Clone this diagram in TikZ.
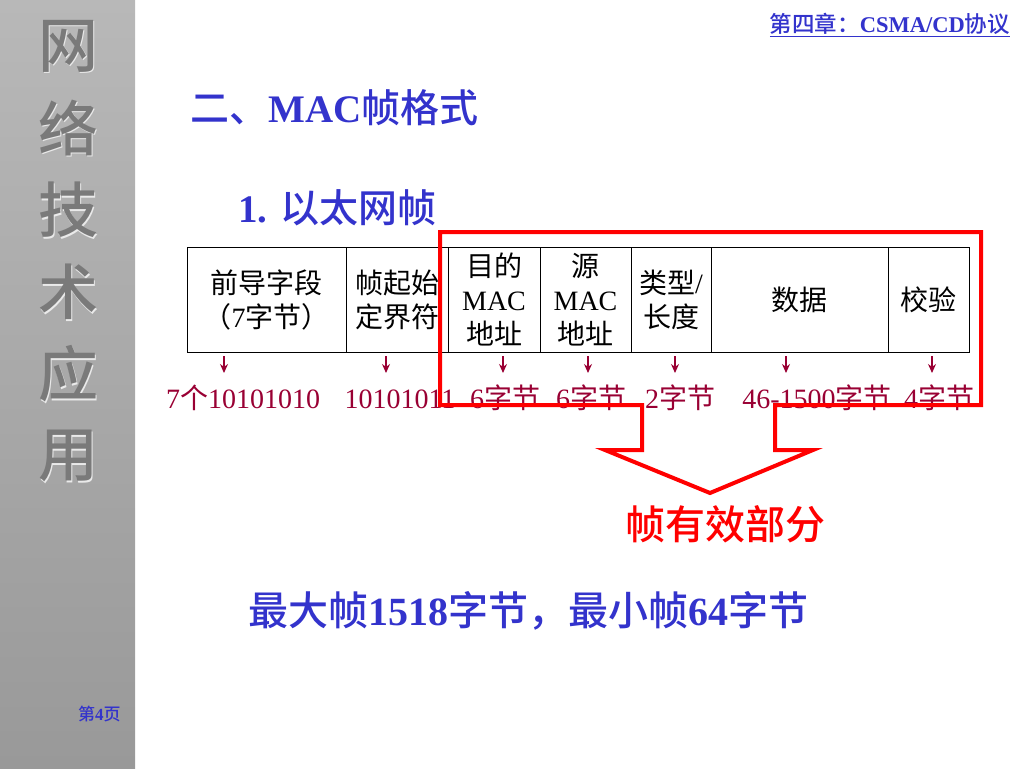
\documentclass[tikz,border=0pt]{standalone}
\usepackage{fontspec}
\setmainfont{Liberation Serif}
\newfontfamily\cjk{Noto Sans CJK SC}[BoldFont={Noto Sans CJK SC Medium}]
\newcommand{\zh}[1]{{\cjk #1}}
\usetikzlibrary{arrows.meta,positioning}

\definecolor{titleblue}{RGB}{51,51,204}
\definecolor{labelred}{RGB}{153,0,51}
\definecolor{sidetop}{RGB}{184,184,184}
\definecolor{sidebot}{RGB}{153,153,153}
\definecolor{sidetext}{RGB}{122,122,122}

\begin{document}
\begin{tikzpicture}
  [
   x=1pt,y=-1pt,
   node distance=0pt,
   cell/.style={draw,line width=0.9pt,inner sep=0pt,outer sep=0pt,minimum height=105pt,align=center,
                font=\fontsize{28}{34}\selectfont},
   lbl/.style={anchor=base,inner sep=0pt,text=labelred,font=\fontsize{28}{34}\selectfont},
   tip/.style={-{Stealth[length=9pt,width=8pt]},line width=1.2pt,draw=labelred},
   head/.style={anchor=base west,inner sep=0pt,text=titleblue,font=\fontsize{39}{44}\selectfont\bfseries},
   sidechar/.style={inner sep=0pt,font=\fontsize{60}{60}\selectfont\cjk\bfseries}
  ]
   \useasboundingbox (0,0) rectangle (1024,768);
   % side bar
   \shade[top color=sidetop,bottom color=sidebot] (0,0) rectangle (135,768);
   \foreach \c [count=\i] in {网,络,技,术,应,用} {
     \node[sidechar,text=white!70!sidetop] at (69.5,47.5+82*\i-82) {\c};
     \node[sidechar,text=sidetext] (s\i) at (68,46+82*\i-82) {\c};
   }
   \node[anchor=base west,inner sep=0pt,text=titleblue,font=\fontsize{17}{20}\selectfont\bfseries]
     (page) at (78,720) {\zh{第}4\zh{页}};

   % headings
   \node[anchor=base east,inner sep=0pt,text=titleblue,font=\fontsize{22.5}{26}\selectfont\bfseries]
     (chap) at (1010,33) {\underline{\zh{第四章：}CSMA/CD\zh{协议}}};
   \node[head] (title) at (190,122) {\zh{二、}MAC\zh{帧格式}};
   \node[head] (sub) at (238,222) {1. \zh{以太网帧}};

   % frame fields
   \node[cell,minimum width=159pt,anchor=north west] (c1) at (187,247) {\zh{前导字段}\\\zh{（}7\zh{字节）}};
   \node[cell,minimum width=102pt] (c2) [right=of c1] {\zh{帧起始}\\\zh{定界符}};
   \node[cell,minimum width=92pt] (c3) [right=of c2] {\zh{目的}\\MAC\\\zh{地址}};
   \node[cell,minimum width=91pt] (c4) [right=of c3] {\zh{源}\\MAC\\\zh{地址}};
   \node[cell,minimum width=80pt] (c5) [right=of c4] {\zh{类型}/\\\zh{长度}};
   \node[cell,minimum width=177pt] (c6) [right=of c5] {\zh{数据}};
   \node[cell,minimum width=81pt] (c7) [right=of c6] {\zh{校验}};

   % sizes
   \node[lbl] (l1) at (243,408) {7\zh{个}10101010};
   \node[lbl] (l2) at (400,408) {10101011};
   \node[lbl] (l3) at (505,408) {6\zh{字节}};
   \node[lbl] (l4) at (591,408) {6\zh{字节}};
   \node[lbl] (l5) at (680,408) {2\zh{字节}};
   \node[lbl] (l6) at (817,408) {46-1500\zh{字节}};
   \node[lbl] (l7) at (939,408) {4\zh{字节}};

   \foreach \n/\x in {1/224,2/386,3/503,4/588,5/675,6/786,7/932} {
     \coordinate (t\n) at (\x,356);
     \coordinate (b\n) at (\x,373);
     \draw[tip] (t\n) -- (b\n);
   }

   % valid part
   \draw[red,line width=4pt,line join=miter]
     (440,232) -- (981,232) -- (981,405) -- (775,405) -- (775,450) -- (813,450)
     -- (710,493) -- (605,450) -- (642,450) -- (642,405) -- (440,405) -- cycle;
   \node[anchor=base,inner sep=0pt,text=red,font=\fontsize{40}{44}\selectfont\cjk\bfseries]
     (valid) at (725,539) {帧有效部分};

   \node[head,font=\fontsize{40}{44}\selectfont\bfseries] (minmax) at (248,625)
     {\zh{最大帧}1518\zh{字节，最小帧}64\zh{字节}};
\end{tikzpicture}
\end{document}
